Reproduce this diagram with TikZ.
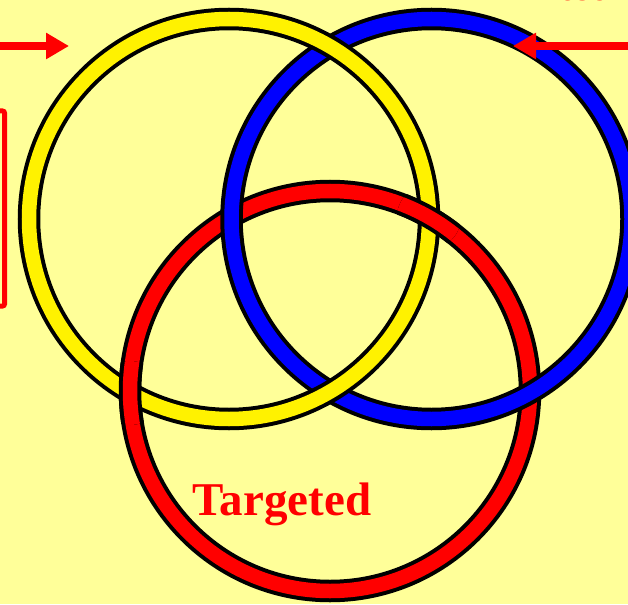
\documentclass[tikz,border=0pt]{standalone}
\usepackage{fontspec}
\setmainfont{Liberation Serif}
\usetikzlibrary{arrows.meta}
\definecolor{bgyellow}{HTML}{FFFF99}
\newcommand\myring[2]{%
  \draw[ringblack] (#1) circle[radius=200];
  \draw[ringcol=#2] (#1) circle[radius=200];}
\begin{document}
\begin{tikzpicture}[x=1pt,y=-1pt,
  ringblack/.style={draw=black,line width=22.5pt},
  ringcol/.style={draw=#1,line width=14.5pt},
  redarrow/.style={draw=red,line width=8pt,-{Triangle[length=23pt,width=25pt]}},
  redlabel/.style={text=red,font=\bfseries\fontsize{#1}{#1}\selectfont,inner sep=0pt}]
\clip (0,0) rectangle (628,604);
\fill[bgyellow] (0,0) rectangle (628,604);
\coordinate (cy) at (229,219);
\coordinate (cb) at (431.5,219);
\coordinate (cr) at (330,391);
% rings: yellow over blue, blue over red, red over yellow
\myring{cr}{red}
\myring{cb}{blue}
\myring{cy}{yellow}
\begin{scope}
  \clip (130,393) circle[radius=32] (429,217) circle[radius=32];
  \myring{cr}{red}
\end{scope}
% arrows
\coordinate (la0) at (-10,46);
\coordinate (la1) at (69,46);
\coordinate (ra0) at (640,46);
\coordinate (ra1) at (513,46);
\draw[redarrow] (la0) -- (la1);
\draw[redarrow] (ra0) -- (ra1);
% left box (cut off)
\draw[red,line width=5pt,rounded corners=2pt] (-30,111) rectangle (4.5,306);
% labels
\node[redlabel=40,anchor=base east] (toplabel) at (613,0.8) {ted};
\node[redlabel=47,anchor=base] (targeted) at (282,515) {Targeted};
\end{tikzpicture}
\end{document}
